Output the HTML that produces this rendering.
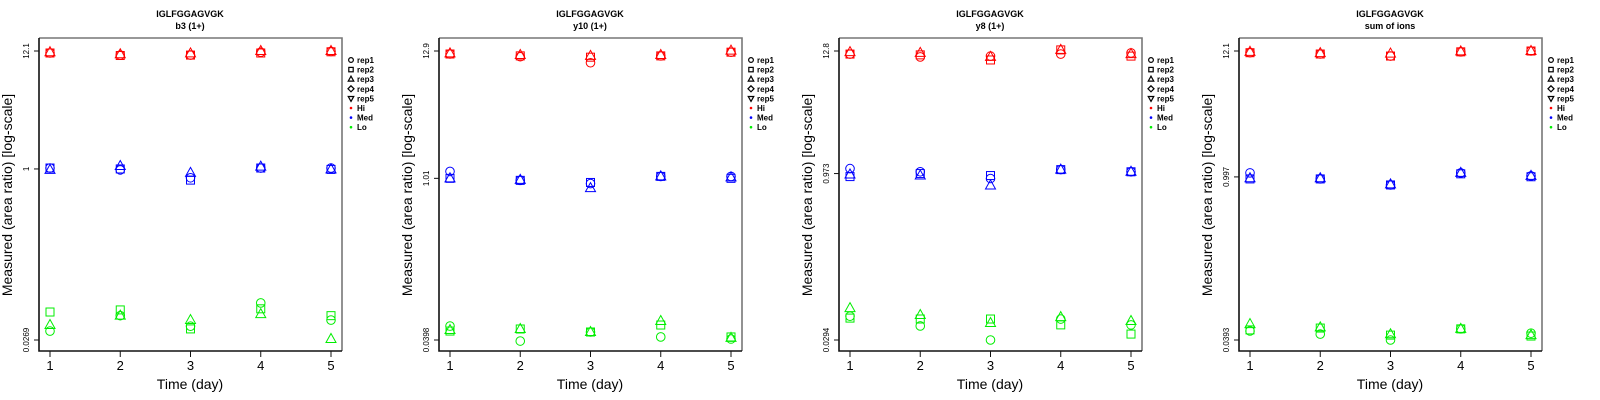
<!DOCTYPE html>
<html><head><meta charset="utf-8">
<style>
html,body{margin:0;padding:0;background:#fff;}
svg{display:block;font-family:"Liberation Sans",Arial,sans-serif;}
</style></head>
<body>
<svg id="chart" width="1600" height="400" viewBox="0 0 1600 400" xmlns="http://www.w3.org/2000/svg"></svg>
<script>
// ---- data ----
const days = [1, 2, 3, 4, 5];
const panelTitles = ["IGLFGGAGVGK", "IGLFGGAGVGK", "IGLFGGAGVGK", "IGLFGGAGVGK"];
const panelSubtitles = ["b3 (1+)", "y10 (1+)", "y8 (1+)", "sum of ions"];
const tickLabels1 = ["12.1", "1", "0.0269"];
const tickLabels2 = ["12.9", "1.01", "0.0398"];
const tickLabels3 = ["12.8", "0.973", "0.0294"];
const tickLabels4 = ["12.1", "0.997", "0.0393"];
const tickValues1 = [12.1, 1, 0.0269];
const tickValues2 = [12.9, 1.01, 0.0398];
const tickValues3 = [12.8, 0.973, 0.0294];
const tickValues4 = [12.1, 0.997, 0.0393];
const levels = ["Hi", "Med", "Lo"];
const reps = ["rep1", "rep2", "rep3", "rep4", "rep5"];

// panel 1 (b3): [rep1..rep3] x days
const p1Hi  = [[11.6,11.1,11.1,11.8,12.0],[11.6,11.0,11.1,11.6,11.9],[11.8,11.3,11.5,12.1,12.1]];
const p1Med = [[1.02,0.98,0.83,1.02,1.02],[1.02,1.00,0.79,1.02,0.99],[0.98,1.065,0.92,1.05,0.99]];
const p1Lo  = [[0.0325,0.045,0.036,0.0589,0.041],[0.0486,0.0508,0.034,0.052,0.045],[0.0369,0.045,0.041,0.0465,0.0275]];
// panel 2 (y10)
const p2Hi  = [[12.15,11.5,10.2,11.7,12.6],[12.15,11.7,11.4,11.7,12.6],[12.3,11.9,11.7,11.9,13.0]];
const p2Med = [[1.16,0.97,0.91,1.05,1.05],[1.01,0.97,0.93,1.05,1.01],[1.01,0.98,0.83,1.05,1.03]];
const p2Lo  = [[0.0526,0.039,0.0467,0.0423,0.0406],[0.0476,0.0496,0.0467,0.0537,0.0423],[0.0486,0.0496,0.0467,0.0582,0.0415]];
// panel 3 (y8)
const p3Hi  = [[12.0,11.3,11.5,12.0,12.3],[12.0,11.8,10.6,13.1,11.5],[12.5,12.3,11.3,13.1,12.0]];
const p3Med = [[1.08,1.01,0.877,1.057,1.01],[0.913,0.973,0.933,1.057,1.01],[0.953,0.933,0.757,1.057,1.01]];
const p3Lo  = [[0.0485,0.0395,0.0294,0.0457,0.0404],[0.0466,0.0457,0.0457,0.0404,0.0333],[0.0575,0.0497,0.042,0.0476,0.0438]];
// panel 4 (sum of ions)
const p4Hi  = [[11.7,11.4,10.95,11.9,12.1],[11.7,11.4,10.95,11.9,12.1],[11.9,11.6,11.5,12.0,12.1]];
const p4Med = [[1.08,0.96,0.85,1.08,1.017],[0.958,0.958,0.85,1.06,1.0],[0.97,0.97,0.86,1.08,1.017]];
const p4Lo  = [[0.047,0.0442,0.0393,0.049,0.045],[0.048,0.0498,0.0433,0.049,0.0425],[0.0539,0.0505,0.044,0.049,0.0433]];

const panelData = [[p1Hi,p1Med,p1Lo],[p2Hi,p2Med,p2Lo],[p3Hi,p3Med,p3Lo],[p4Hi,p4Med,p4Lo]];
const panelTickValues = [tickValues1,tickValues2,tickValues3,tickValues4];
const panelTickLabels = [tickLabels1,tickLabels2,tickLabels3,tickLabels4];
const levelColors = ["#ff0000", "#0000ff", "#00ee00"];

// ---- drawing ----
const NS = "http://www.w3.org/2000/svg";
const svg = document.getElementById("chart");
function mk(tag, attrs, parent) {
  const e = document.createElementNS(NS, tag);
  for (const k in attrs) e.setAttribute(k, attrs[k]);
  (parent || svg).appendChild(e);
  return e;
}
function marker(shape, cx, cy, color, g) {
  const s = {fill: "none", stroke: color, "stroke-width": 1};
  let e;
  if (shape === 0) e = mk("circle", Object.assign({cx: cx, cy: cy, r: 4.3}, s), g);
  else if (shape === 1) e = mk("rect", Object.assign({x: cx - 4, y: cy - 4, width: 8, height: 8}, s), g);
  else if (shape === 2) e = mk("polygon", Object.assign({points: `${cx},${cy-5.5} ${cx+5},${cy+3.5} ${cx-5},${cy+3.5}`}, s), g);
  else if (shape === 3) e = mk("polygon", Object.assign({points: `${cx},${cy-5.5} ${cx+5.5},${cy} ${cx},${cy+5.5} ${cx-5.5},${cy}`}, s), g);
  else e = mk("polygon", Object.assign({points: `${cx},${cy+5.5} ${cx+5},${cy-3.5} ${cx-5},${cy-3.5}`}, s), g);
  return e;
}

panelData.forEach((pd, p) => {
  const ox = p * 400;
  const L = ox + 39, R = ox + 342, T = 38, B = 351;
  const tv = panelTickValues[p];
  const lnMax = Math.log(tv[0]), lnMin = Math.log(tv[2]);
  const yScale = v => 340 - (Math.log(v) - lnMin) / (lnMax - lnMin) * 289;
  const xScale = d => ox + 50 + (d - 1) * 70.25;

  const g = mk("g", {});
  
  

  const t1 = mk("text", {x: ox + 190, y: 17, "text-anchor": "middle", "font-size": 9, "font-weight": "bold"}, g);
  t1.textContent = panelTitles[p];
  
  
  const t2 = mk("text", {x: ox + 190, y: 29, "text-anchor": "middle", "font-size": 9, "font-weight": "bold"}, g);
  t2.textContent = panelSubtitles[p];
  
  

  const box = mk("path", {d: `M${L},${T} H${R} V${B}`, fill: "none", stroke: "#777", "stroke-width": 1.6}, g);
  
  
  const axes = mk("path", {d: `M${L},${T} V${B} H${R}`, fill: "none", stroke: "#111", "stroke-width": 1.6}, g);
  
  

  tv.forEach((v, i) => {
    const y = yScale(v);
    const tk = mk("line", {x1: L - 5, x2: L, y1: y, y2: y, stroke: "#111", "stroke-width": 1}, g);
    
    
    const lb = mk("text", {x: 0, y: 0, "text-anchor": "middle", "font-size": 8, transform: `translate(${ox + 29},${y}) rotate(-90)`}, g);
    lb.textContent = panelTickLabels[p][i];
    
    
  });
  days.forEach(d => {
    const x = xScale(d);
    const tk = mk("line", {x1: x, x2: x, y1: B, y2: B + 6, stroke: "#111", "stroke-width": 1}, g);
    
    
    const lb = mk("text", {x: x, y: 370, "text-anchor": "middle", "font-size": 13}, g);
    lb.textContent = String(d);
    
    
  });
  const xt = mk("text", {x: ox + 190, y: 389, "text-anchor": "middle", "font-size": 14}, g);
  xt.textContent = "Time (day)";
  
  
  const yt = mk("text", {x: 0, y: 0, "text-anchor": "middle", "font-size": 14, transform: `translate(${ox + 12},195) rotate(-90)`}, g);
  yt.textContent = "Measured (area ratio) [log-scale]";
  
  

  pd.forEach((lvl, li) => {
    lvl.forEach((repVals, ri) => {
      repVals.forEach((v, di) => {
        const m = marker(ri, xScale(days[di]), yScale(v), levelColors[li], g);
        
        
      });
    });
  });

  const lg = mk("g", {}, g);
  
  
  const lx = ox + 351;
  reps.forEach((r, i) => {
    const y = 60 + i * 9.6;
    const s = document.createElementNS(NS, "g");
    lg.appendChild(s);
    const sym = marker(i, lx, y, "#000", s);
    sym.setAttribute("transform", `translate(${lx},${y}) scale(0.55) translate(${-lx},${-y})`);
    sym.setAttribute("stroke-width", 2.2);
    
    
    const tx = mk("text", {x: lx + 6, y: y + 3, "font-size": 8, "font-weight": "bold"}, s);
    tx.textContent = r;
  });
  levels.forEach((lv, i) => {
    const y = 108 + i * 9.6;
    const s = document.createElementNS(NS, "g");
    lg.appendChild(s);
    mk("circle", {cx: lx, cy: y, r: 1.3, fill: levelColors[i]}, s);
    
    
    const tx = mk("text", {x: lx + 6, y: y + 3, "font-size": 8, "font-weight": "bold"}, s);
    tx.textContent = lv;
  });
});
</script>
</body></html>
